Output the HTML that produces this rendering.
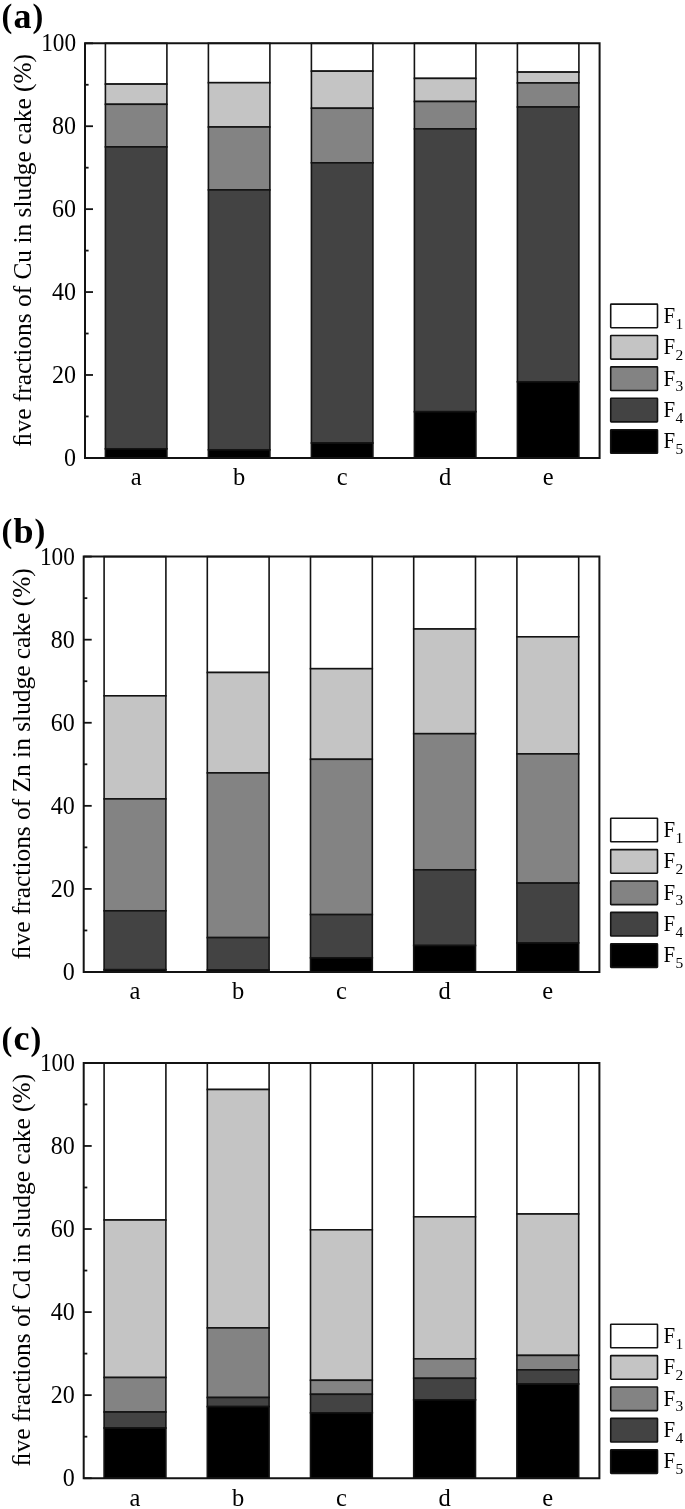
<!DOCTYPE html>
<html><head><meta charset="utf-8"><style>
html,body{margin:0;padding:0;background:#fff;width:685px;height:1509px;overflow:hidden}
svg{position:absolute;left:0;top:0;display:block;filter:grayscale(1)}
.t{font-family:"Liberation Serif",serif;font-size:24.5px;fill:#000}
.d{font-family:"Liberation Serif",serif;font-size:24.5px;fill:#000}
.yl{font-family:"Liberation Serif",serif;font-size:25.4px;fill:#000}
.tag{font-family:"Liberation Serif",serif;font-size:36px;font-weight:bold;fill:#000}
.lg{font-family:"Liberation Serif",serif;font-size:22.5px;fill:#000}
.lg.sb{font-size:15.5px}
</style></head><body>
<svg width="685" height="1509" viewBox="0 0 685 1509">
<rect width="685" height="1509" fill="#fff"/>
<rect x="105.4" y="43.3" width="61.5" height="40.8" fill="#ffffff" stroke="#131313" stroke-width="1.6"/>
<rect x="105.4" y="84.1" width="61.5" height="20.2" fill="#c4c4c4" stroke="#131313" stroke-width="1.6"/>
<rect x="105.4" y="104.3" width="61.5" height="42.6" fill="#838383" stroke="#131313" stroke-width="1.6"/>
<rect x="105.4" y="146.9" width="61.5" height="301.9" fill="#434343" stroke="#131313" stroke-width="1.6"/>
<rect x="105.4" y="448.8" width="61.5" height="9.1" fill="#000000" stroke="#131313" stroke-width="1.6"/>
<text x="136.15" y="485.3" class="t" text-anchor="middle">a</text>
<rect x="208.4" y="43.3" width="61.5" height="39.4" fill="#ffffff" stroke="#131313" stroke-width="1.6"/>
<rect x="208.4" y="82.7" width="61.5" height="44.3" fill="#c4c4c4" stroke="#131313" stroke-width="1.6"/>
<rect x="208.4" y="127" width="61.5" height="62.9" fill="#838383" stroke="#131313" stroke-width="1.6"/>
<rect x="208.4" y="189.9" width="61.5" height="259.9" fill="#434343" stroke="#131313" stroke-width="1.6"/>
<rect x="208.4" y="449.8" width="61.5" height="8.1" fill="#000000" stroke="#131313" stroke-width="1.6"/>
<text x="239.15" y="485.3" class="t" text-anchor="middle">b</text>
<rect x="311.4" y="43.3" width="61.5" height="27.85" fill="#ffffff" stroke="#131313" stroke-width="1.6"/>
<rect x="311.4" y="71.15" width="61.5" height="37.1" fill="#c4c4c4" stroke="#131313" stroke-width="1.6"/>
<rect x="311.4" y="108.25" width="61.5" height="54.55" fill="#838383" stroke="#131313" stroke-width="1.6"/>
<rect x="311.4" y="162.8" width="61.5" height="280.2" fill="#434343" stroke="#131313" stroke-width="1.6"/>
<rect x="311.4" y="443" width="61.5" height="14.9" fill="#000000" stroke="#131313" stroke-width="1.6"/>
<text x="342.15" y="485.3" class="t" text-anchor="middle">c</text>
<rect x="414.4" y="43.3" width="61.5" height="35.1" fill="#ffffff" stroke="#131313" stroke-width="1.6"/>
<rect x="414.4" y="78.4" width="61.5" height="23.1" fill="#c4c4c4" stroke="#131313" stroke-width="1.6"/>
<rect x="414.4" y="101.5" width="61.5" height="27.4" fill="#838383" stroke="#131313" stroke-width="1.6"/>
<rect x="414.4" y="128.9" width="61.5" height="282.8" fill="#434343" stroke="#131313" stroke-width="1.6"/>
<rect x="414.4" y="411.7" width="61.5" height="46.2" fill="#000000" stroke="#131313" stroke-width="1.6"/>
<text x="445.15" y="485.3" class="t" text-anchor="middle">d</text>
<rect x="517.4" y="43.3" width="61.5" height="28.8" fill="#ffffff" stroke="#131313" stroke-width="1.6"/>
<rect x="517.4" y="72.1" width="61.5" height="10.85" fill="#c4c4c4" stroke="#131313" stroke-width="1.6"/>
<rect x="517.4" y="82.95" width="61.5" height="24.05" fill="#838383" stroke="#131313" stroke-width="1.6"/>
<rect x="517.4" y="107" width="61.5" height="274.8" fill="#434343" stroke="#131313" stroke-width="1.6"/>
<rect x="517.4" y="381.8" width="61.5" height="76.1" fill="#000000" stroke="#131313" stroke-width="1.6"/>
<text x="548.15" y="485.3" class="t" text-anchor="middle">e</text>
<path d="M85 43.3L599.6 43.3L599.6 457.9L85 457.9Z" fill="none" stroke="#131313" stroke-width="2" stroke-linejoin="miter"/>
<line x1="85" y1="457.9" x2="93" y2="457.9" stroke="#131313" stroke-width="1.8"/>
<text transform="translate(76.1 465.9) scale(0.98 1)" class="d" text-anchor="end">0</text>
<line x1="85" y1="416.44" x2="88.6" y2="416.44" stroke="#131313" stroke-width="1.8"/>
<line x1="85" y1="374.98" x2="93" y2="374.98" stroke="#131313" stroke-width="1.8"/>
<text transform="translate(76.1 382.98) scale(0.98 1)" class="d" text-anchor="end">20</text>
<line x1="85" y1="333.52" x2="88.6" y2="333.52" stroke="#131313" stroke-width="1.8"/>
<line x1="85" y1="292.06" x2="93" y2="292.06" stroke="#131313" stroke-width="1.8"/>
<text transform="translate(76.1 300.06) scale(0.98 1)" class="d" text-anchor="end">40</text>
<line x1="85" y1="250.6" x2="88.6" y2="250.6" stroke="#131313" stroke-width="1.8"/>
<line x1="85" y1="209.14" x2="93" y2="209.14" stroke="#131313" stroke-width="1.8"/>
<text transform="translate(76.1 217.14) scale(0.98 1)" class="d" text-anchor="end">60</text>
<line x1="85" y1="167.68" x2="88.6" y2="167.68" stroke="#131313" stroke-width="1.8"/>
<line x1="85" y1="126.22" x2="93" y2="126.22" stroke="#131313" stroke-width="1.8"/>
<text transform="translate(76.1 134.22) scale(0.98 1)" class="d" text-anchor="end">80</text>
<line x1="85" y1="84.76" x2="88.6" y2="84.76" stroke="#131313" stroke-width="1.8"/>
<line x1="85" y1="43.3" x2="93" y2="43.3" stroke="#131313" stroke-width="1.8"/>
<text transform="translate(76.1 51.3) scale(0.95 1)" class="d" text-anchor="end">100</text>
<text transform="translate(30.6 250.3) rotate(-90)" class="yl" text-anchor="middle">&#xFB01;ve fractions of Cu in sludge cake (%)</text>
<text x="13.5" y="27.6" class="tag">a</text>
<text transform="translate(1.5 2.9) scale(0.9 0.965)" y="24.98" class="tag">(</text>
<text transform="translate(32.5 2.9) scale(0.9 0.965)" y="24.98" class="tag">)</text>
<rect x="610.7" y="304.1" width="46.8" height="23.6" rx="0.6" fill="#ffffff" stroke="#131313" stroke-width="1.6"/>
<text transform="translate(663.6 322.7) scale(0.93 1)" class="lg">F</text>
<text x="675.6" y="328.5" class="lg sb">1</text>
<rect x="610.7" y="335.5" width="46.8" height="23.6" rx="0.6" fill="#c4c4c4" stroke="#131313" stroke-width="1.6"/>
<text transform="translate(663.6 354.1) scale(0.93 1)" class="lg">F</text>
<text x="675.6" y="359.9" class="lg sb">2</text>
<rect x="610.7" y="366.9" width="46.8" height="23.6" rx="0.6" fill="#838383" stroke="#131313" stroke-width="1.6"/>
<text transform="translate(663.6 385.5) scale(0.93 1)" class="lg">F</text>
<text x="675.6" y="391.3" class="lg sb">3</text>
<rect x="610.7" y="398.3" width="46.8" height="23.6" rx="0.6" fill="#434343" stroke="#131313" stroke-width="1.6"/>
<text transform="translate(663.6 416.9) scale(0.93 1)" class="lg">F</text>
<text x="675.6" y="422.7" class="lg sb">4</text>
<rect x="610.7" y="429.7" width="46.8" height="23.6" rx="0.6" fill="#000000" stroke="#131313" stroke-width="1.6"/>
<text transform="translate(663.6 448.3) scale(0.93 1)" class="lg">F</text>
<text x="675.6" y="454.1" class="lg sb">5</text>
<rect x="104.1" y="556.6" width="61.8" height="139.2" fill="#ffffff" stroke="#131313" stroke-width="1.6"/>
<rect x="104.1" y="695.8" width="61.8" height="103.1" fill="#c4c4c4" stroke="#131313" stroke-width="1.6"/>
<rect x="104.1" y="798.9" width="61.8" height="111.9" fill="#838383" stroke="#131313" stroke-width="1.6"/>
<rect x="104.1" y="910.8" width="61.8" height="58.9" fill="#434343" stroke="#131313" stroke-width="1.6"/>
<rect x="104.1" y="969.7" width="61.8" height="2.3" fill="#000000" stroke="#131313" stroke-width="1.6"/>
<text x="135" y="999.4" class="t" text-anchor="middle">a</text>
<rect x="207.3" y="556.6" width="61.8" height="115.9" fill="#ffffff" stroke="#131313" stroke-width="1.6"/>
<rect x="207.3" y="672.5" width="61.8" height="100.4" fill="#c4c4c4" stroke="#131313" stroke-width="1.6"/>
<rect x="207.3" y="772.9" width="61.8" height="164.7" fill="#838383" stroke="#131313" stroke-width="1.6"/>
<rect x="207.3" y="937.6" width="61.8" height="32.3" fill="#434343" stroke="#131313" stroke-width="1.6"/>
<rect x="207.3" y="969.9" width="61.8" height="2.1" fill="#000000" stroke="#131313" stroke-width="1.6"/>
<text x="238.2" y="999.4" class="t" text-anchor="middle">b</text>
<rect x="310.5" y="556.6" width="61.8" height="112.1" fill="#ffffff" stroke="#131313" stroke-width="1.6"/>
<rect x="310.5" y="668.7" width="61.8" height="90.6" fill="#c4c4c4" stroke="#131313" stroke-width="1.6"/>
<rect x="310.5" y="759.3" width="61.8" height="155.3" fill="#838383" stroke="#131313" stroke-width="1.6"/>
<rect x="310.5" y="914.6" width="61.8" height="43.2" fill="#434343" stroke="#131313" stroke-width="1.6"/>
<rect x="310.5" y="957.8" width="61.8" height="14.2" fill="#000000" stroke="#131313" stroke-width="1.6"/>
<text x="341.4" y="999.4" class="t" text-anchor="middle">c</text>
<rect x="413.7" y="556.6" width="61.8" height="72.4" fill="#ffffff" stroke="#131313" stroke-width="1.6"/>
<rect x="413.7" y="629" width="61.8" height="104.7" fill="#c4c4c4" stroke="#131313" stroke-width="1.6"/>
<rect x="413.7" y="733.7" width="61.8" height="136.1" fill="#838383" stroke="#131313" stroke-width="1.6"/>
<rect x="413.7" y="869.8" width="61.8" height="75.7" fill="#434343" stroke="#131313" stroke-width="1.6"/>
<rect x="413.7" y="945.5" width="61.8" height="26.5" fill="#000000" stroke="#131313" stroke-width="1.6"/>
<text x="444.6" y="999.4" class="t" text-anchor="middle">d</text>
<rect x="516.9" y="556.6" width="61.8" height="80.2" fill="#ffffff" stroke="#131313" stroke-width="1.6"/>
<rect x="516.9" y="636.8" width="61.8" height="117.1" fill="#c4c4c4" stroke="#131313" stroke-width="1.6"/>
<rect x="516.9" y="753.9" width="61.8" height="129.2" fill="#838383" stroke="#131313" stroke-width="1.6"/>
<rect x="516.9" y="883.1" width="61.8" height="59.8" fill="#434343" stroke="#131313" stroke-width="1.6"/>
<rect x="516.9" y="942.9" width="61.8" height="29.1" fill="#000000" stroke="#131313" stroke-width="1.6"/>
<text x="547.8" y="999.4" class="t" text-anchor="middle">e</text>
<path d="M83.7 556.6L599.4 556.6L599.4 972L83.7 972Z" fill="none" stroke="#131313" stroke-width="2" stroke-linejoin="miter"/>
<line x1="83.7" y1="972" x2="91.7" y2="972" stroke="#131313" stroke-width="1.8"/>
<text transform="translate(74.8 980) scale(0.98 1)" class="d" text-anchor="end">0</text>
<line x1="83.7" y1="930.46" x2="87.3" y2="930.46" stroke="#131313" stroke-width="1.8"/>
<line x1="83.7" y1="888.92" x2="91.7" y2="888.92" stroke="#131313" stroke-width="1.8"/>
<text transform="translate(74.8 896.92) scale(0.98 1)" class="d" text-anchor="end">20</text>
<line x1="83.7" y1="847.38" x2="87.3" y2="847.38" stroke="#131313" stroke-width="1.8"/>
<line x1="83.7" y1="805.84" x2="91.7" y2="805.84" stroke="#131313" stroke-width="1.8"/>
<text transform="translate(74.8 813.84) scale(0.98 1)" class="d" text-anchor="end">40</text>
<line x1="83.7" y1="764.3" x2="87.3" y2="764.3" stroke="#131313" stroke-width="1.8"/>
<line x1="83.7" y1="722.76" x2="91.7" y2="722.76" stroke="#131313" stroke-width="1.8"/>
<text transform="translate(74.8 730.76) scale(0.98 1)" class="d" text-anchor="end">60</text>
<line x1="83.7" y1="681.22" x2="87.3" y2="681.22" stroke="#131313" stroke-width="1.8"/>
<line x1="83.7" y1="639.68" x2="91.7" y2="639.68" stroke="#131313" stroke-width="1.8"/>
<text transform="translate(74.8 647.68) scale(0.98 1)" class="d" text-anchor="end">80</text>
<line x1="83.7" y1="598.14" x2="87.3" y2="598.14" stroke="#131313" stroke-width="1.8"/>
<line x1="83.7" y1="556.6" x2="91.7" y2="556.6" stroke="#131313" stroke-width="1.8"/>
<text transform="translate(74.8 564.6) scale(0.95 1)" class="d" text-anchor="end">100</text>
<text transform="translate(29.9 763.9) rotate(-90)" class="yl" text-anchor="middle">&#xFB01;ve fractions of Zn in sludge cake (%)</text>
<text x="13.5" y="542.6" class="tag">b</text>
<text transform="translate(1.5 517.4) scale(0.9 0.965)" y="24.98" class="tag">(</text>
<text transform="translate(34.5 517.4) scale(0.9 0.965)" y="24.98" class="tag">)</text>
<rect x="610.7" y="818.2" width="46.8" height="23.6" rx="0.6" fill="#ffffff" stroke="#131313" stroke-width="1.6"/>
<text transform="translate(663.6 836.8) scale(0.93 1)" class="lg">F</text>
<text x="675.6" y="842.6" class="lg sb">1</text>
<rect x="610.7" y="849.6" width="46.8" height="23.6" rx="0.6" fill="#c4c4c4" stroke="#131313" stroke-width="1.6"/>
<text transform="translate(663.6 868.2) scale(0.93 1)" class="lg">F</text>
<text x="675.6" y="874" class="lg sb">2</text>
<rect x="610.7" y="881" width="46.8" height="23.6" rx="0.6" fill="#838383" stroke="#131313" stroke-width="1.6"/>
<text transform="translate(663.6 899.6) scale(0.93 1)" class="lg">F</text>
<text x="675.6" y="905.4" class="lg sb">3</text>
<rect x="610.7" y="912.4" width="46.8" height="23.6" rx="0.6" fill="#434343" stroke="#131313" stroke-width="1.6"/>
<text transform="translate(663.6 931) scale(0.93 1)" class="lg">F</text>
<text x="675.6" y="936.8" class="lg sb">4</text>
<rect x="610.7" y="943.8" width="46.8" height="23.6" rx="0.6" fill="#000000" stroke="#131313" stroke-width="1.6"/>
<text transform="translate(663.6 962.4) scale(0.93 1)" class="lg">F</text>
<text x="675.6" y="968.2" class="lg sb">5</text>
<rect x="104.1" y="1062.9" width="61.8" height="157.1" fill="#ffffff" stroke="#131313" stroke-width="1.6"/>
<rect x="104.1" y="1220" width="61.8" height="157.5" fill="#c4c4c4" stroke="#131313" stroke-width="1.6"/>
<rect x="104.1" y="1377.5" width="61.8" height="34.5" fill="#838383" stroke="#131313" stroke-width="1.6"/>
<rect x="104.1" y="1412" width="61.8" height="16" fill="#434343" stroke="#131313" stroke-width="1.6"/>
<rect x="104.1" y="1428" width="61.8" height="50.2" fill="#000000" stroke="#131313" stroke-width="1.6"/>
<text x="135" y="1505.6" class="t" text-anchor="middle">a</text>
<rect x="207.3" y="1062.9" width="61.8" height="26.6" fill="#ffffff" stroke="#131313" stroke-width="1.6"/>
<rect x="207.3" y="1089.5" width="61.8" height="238.4" fill="#c4c4c4" stroke="#131313" stroke-width="1.6"/>
<rect x="207.3" y="1327.9" width="61.8" height="69.6" fill="#838383" stroke="#131313" stroke-width="1.6"/>
<rect x="207.3" y="1397.5" width="61.8" height="9.1" fill="#434343" stroke="#131313" stroke-width="1.6"/>
<rect x="207.3" y="1406.6" width="61.8" height="71.6" fill="#000000" stroke="#131313" stroke-width="1.6"/>
<text x="238.2" y="1505.6" class="t" text-anchor="middle">b</text>
<rect x="310.5" y="1062.9" width="61.8" height="166.9" fill="#ffffff" stroke="#131313" stroke-width="1.6"/>
<rect x="310.5" y="1229.8" width="61.8" height="150.5" fill="#c4c4c4" stroke="#131313" stroke-width="1.6"/>
<rect x="310.5" y="1380.3" width="61.8" height="14" fill="#838383" stroke="#131313" stroke-width="1.6"/>
<rect x="310.5" y="1394.3" width="61.8" height="18.5" fill="#434343" stroke="#131313" stroke-width="1.6"/>
<rect x="310.5" y="1412.8" width="61.8" height="65.4" fill="#000000" stroke="#131313" stroke-width="1.6"/>
<text x="341.4" y="1505.6" class="t" text-anchor="middle">c</text>
<rect x="413.7" y="1062.9" width="61.8" height="153.9" fill="#ffffff" stroke="#131313" stroke-width="1.6"/>
<rect x="413.7" y="1216.8" width="61.8" height="142" fill="#c4c4c4" stroke="#131313" stroke-width="1.6"/>
<rect x="413.7" y="1358.8" width="61.8" height="19.5" fill="#838383" stroke="#131313" stroke-width="1.6"/>
<rect x="413.7" y="1378.3" width="61.8" height="21.5" fill="#434343" stroke="#131313" stroke-width="1.6"/>
<rect x="413.7" y="1399.8" width="61.8" height="78.4" fill="#000000" stroke="#131313" stroke-width="1.6"/>
<text x="444.6" y="1505.6" class="t" text-anchor="middle">d</text>
<rect x="516.9" y="1062.9" width="61.8" height="151.1" fill="#ffffff" stroke="#131313" stroke-width="1.6"/>
<rect x="516.9" y="1214" width="61.8" height="141.4" fill="#c4c4c4" stroke="#131313" stroke-width="1.6"/>
<rect x="516.9" y="1355.4" width="61.8" height="14.4" fill="#838383" stroke="#131313" stroke-width="1.6"/>
<rect x="516.9" y="1369.8" width="61.8" height="14.2" fill="#434343" stroke="#131313" stroke-width="1.6"/>
<rect x="516.9" y="1384" width="61.8" height="94.2" fill="#000000" stroke="#131313" stroke-width="1.6"/>
<text x="547.8" y="1505.6" class="t" text-anchor="middle">e</text>
<path d="M83.7 1062.9L599.4 1062.9L599.4 1478.2L83.7 1478.2Z" fill="none" stroke="#131313" stroke-width="2" stroke-linejoin="miter"/>
<line x1="83.7" y1="1478.2" x2="91.7" y2="1478.2" stroke="#131313" stroke-width="1.8"/>
<text transform="translate(74.8 1486.2) scale(0.98 1)" class="d" text-anchor="end">0</text>
<line x1="83.7" y1="1436.67" x2="87.3" y2="1436.67" stroke="#131313" stroke-width="1.8"/>
<line x1="83.7" y1="1395.14" x2="91.7" y2="1395.14" stroke="#131313" stroke-width="1.8"/>
<text transform="translate(74.8 1403.14) scale(0.98 1)" class="d" text-anchor="end">20</text>
<line x1="83.7" y1="1353.61" x2="87.3" y2="1353.61" stroke="#131313" stroke-width="1.8"/>
<line x1="83.7" y1="1312.08" x2="91.7" y2="1312.08" stroke="#131313" stroke-width="1.8"/>
<text transform="translate(74.8 1320.08) scale(0.98 1)" class="d" text-anchor="end">40</text>
<line x1="83.7" y1="1270.55" x2="87.3" y2="1270.55" stroke="#131313" stroke-width="1.8"/>
<line x1="83.7" y1="1229.02" x2="91.7" y2="1229.02" stroke="#131313" stroke-width="1.8"/>
<text transform="translate(74.8 1237.02) scale(0.98 1)" class="d" text-anchor="end">60</text>
<line x1="83.7" y1="1187.49" x2="87.3" y2="1187.49" stroke="#131313" stroke-width="1.8"/>
<line x1="83.7" y1="1145.96" x2="91.7" y2="1145.96" stroke="#131313" stroke-width="1.8"/>
<text transform="translate(74.8 1153.96) scale(0.98 1)" class="d" text-anchor="end">80</text>
<line x1="83.7" y1="1104.43" x2="87.3" y2="1104.43" stroke="#131313" stroke-width="1.8"/>
<line x1="83.7" y1="1062.9" x2="91.7" y2="1062.9" stroke="#131313" stroke-width="1.8"/>
<text transform="translate(74.8 1070.9) scale(0.95 1)" class="d" text-anchor="end">100</text>
<text transform="translate(29.9 1270.2) rotate(-90)" class="yl" text-anchor="middle">&#xFB01;ve fractions of Cd in sludge cake (%)</text>
<text x="13.5" y="1050.3" class="tag">c</text>
<text transform="translate(1.5 1025.6) scale(0.9 0.965)" y="24.98" class="tag">(</text>
<text transform="translate(30.5 1025.6) scale(0.9 0.965)" y="24.98" class="tag">)</text>
<rect x="610.7" y="1324.2" width="46.8" height="23.6" rx="0.6" fill="#ffffff" stroke="#131313" stroke-width="1.6"/>
<text transform="translate(663.6 1342.8) scale(0.93 1)" class="lg">F</text>
<text x="675.6" y="1348.6" class="lg sb">1</text>
<rect x="610.7" y="1355.6" width="46.8" height="23.6" rx="0.6" fill="#c4c4c4" stroke="#131313" stroke-width="1.6"/>
<text transform="translate(663.6 1374.2) scale(0.93 1)" class="lg">F</text>
<text x="675.6" y="1380" class="lg sb">2</text>
<rect x="610.7" y="1387" width="46.8" height="23.6" rx="0.6" fill="#838383" stroke="#131313" stroke-width="1.6"/>
<text transform="translate(663.6 1405.6) scale(0.93 1)" class="lg">F</text>
<text x="675.6" y="1411.4" class="lg sb">3</text>
<rect x="610.7" y="1418.4" width="46.8" height="23.6" rx="0.6" fill="#434343" stroke="#131313" stroke-width="1.6"/>
<text transform="translate(663.6 1437) scale(0.93 1)" class="lg">F</text>
<text x="675.6" y="1442.8" class="lg sb">4</text>
<rect x="610.7" y="1449.8" width="46.8" height="23.6" rx="0.6" fill="#000000" stroke="#131313" stroke-width="1.6"/>
<text transform="translate(663.6 1468.4) scale(0.93 1)" class="lg">F</text>
<text x="675.6" y="1474.2" class="lg sb">5</text>
</svg>
</body></html>
